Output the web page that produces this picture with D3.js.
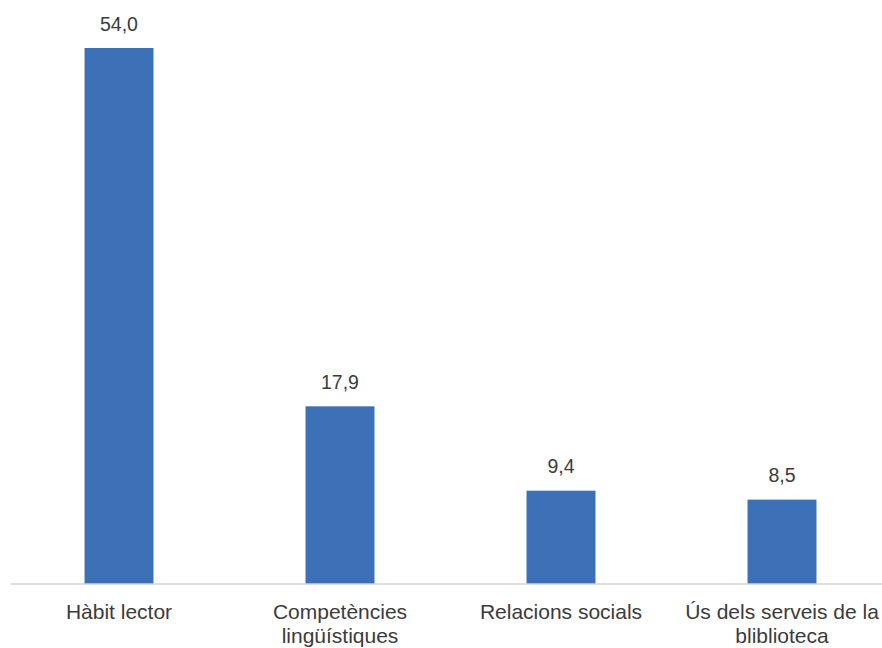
<!DOCTYPE html>
<html><head><meta charset="utf-8">
<script src="https://cdn.jsdelivr.net/npm/d3@7"></script>
<style>body{margin:0;background:#fff;}svg{display:block;}</style>
</head><body>
<svg id="c" width="882" height="648"></svg>
<script>
const categories = ["Hàbit lector", "Competències lingüístiques", "Relacions socials", "Ús dels serveis de la bliblioteca"];
const categoryLines = [["Hàbit lector"], ["Competències", "lingüístiques"], ["Relacions socials"], ["Ús dels serveis de la", "bliblioteca"]];
const values = [54.0, 17.9, 9.4, 8.5];
const valueLabels = ["54,0", "17,9", "9,4", "8,5"];

const svg = d3.select("#c");
const x = d3.scaleBand().domain(categories).range([8.5, 892.5]).paddingInner(0).paddingOuter(0);
const y = d3.scaleLinear().domain([0, 54]).range([584, 48]);
const barW = x.bandwidth() * 0.312;
const font = "'Liberation Sans', Arial, Helvetica, sans-serif";

svg.selectAll("rect.bar").data(values).join("rect")
  .attr("x", (d, i) => x(categories[i]) + (x.bandwidth() - barW) / 2)
  .attr("y", d => y(d))
  .attr("width", barW)
  .attr("height", d => y(0) - y(d))
  .attr("fill", "#3c71b8");

svg.append("line").attr("x1", 11).attr("x2", 882).attr("y1", y(0)).attr("y2", y(0))
  .attr("stroke", "#d3d3d3").attr("stroke-width", 1.5);

svg.selectAll("text.val").data(values).join("text")
  .attr("x", (d, i) => x(categories[i]) + x.bandwidth() / 2)
  .attr("y", d => y(d) - 17.5)
  .attr("text-anchor", "middle")
  .attr("font-family", font).attr("font-size", 19.5).attr("fill", "#3b3b3b")
  .text((d, i) => valueLabels[i]);

categories.forEach((c, i) => {
  const t = svg.append("text")
    .attr("x", x(c) + x.bandwidth() / 2)
    .attr("y", 618.5)
    .attr("text-anchor", "middle")
    .attr("font-family", font).attr("font-size", 21).attr("fill", "#3b3b3b");
  categoryLines[i].forEach((l, j) => {
    t.append("tspan").attr("x", x(c) + x.bandwidth() / 2).attr("dy", j === 0 ? 0 : 24.5).text(l);
  });
});
</script>
</body></html>
